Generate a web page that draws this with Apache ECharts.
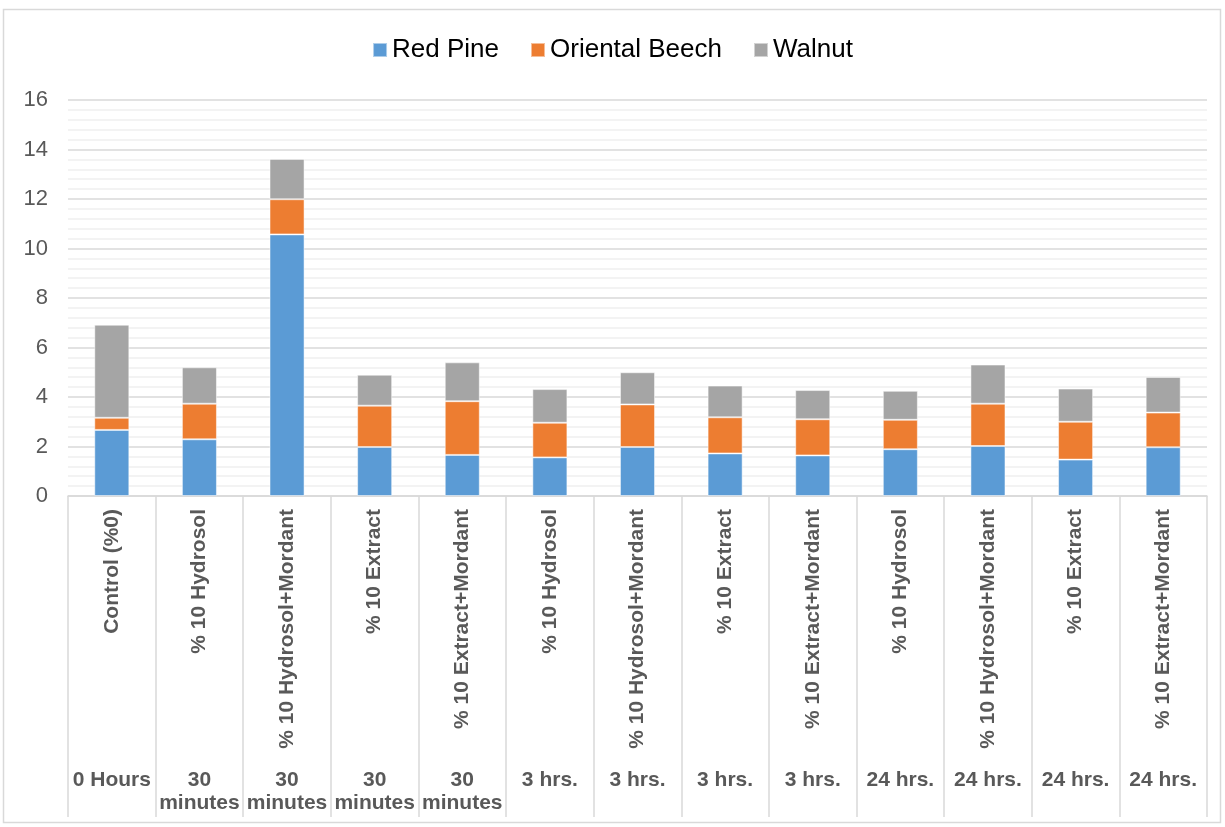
<!DOCTYPE html>
<html lang="en">
<head>
    <meta charset="utf-8">
    <title>ECharts</title>
    <script src="https://cdn.jsdelivr.net/npm/echarts@6/dist/echarts.min.js"></script>
    <style>
        html, body { margin: 0; padding: 0; background: #fff; }
    </style>
</head>
<body>
<div id="main" style="width:1225px;height:827px;"></div>
<script type="text/javascript">
    // treatments (first row of x labels) and time groups (second row)
    var categories = ['Control (%0)', '% 10 Hydrosol', '% 10 Hydrosol+Mordant', '% 10 Extract', '% 10 Extract+Mordant',
        '% 10 Hydrosol', '% 10 Hydrosol+Mordant', '% 10 Extract', '% 10 Extract+Mordant',
        '% 10 Hydrosol', '% 10 Hydrosol+Mordant', '% 10 Extract', '% 10 Extract+Mordant'];
    var groups = ['0 Hours', '30\nminutes', '30\nminutes', '30\nminutes', '30\nminutes',
        '3 hrs.', '3 hrs.', '3 hrs.', '3 hrs.', '24 hrs.', '24 hrs.', '24 hrs.', '24 hrs.'];

    var redPine = [2.67, 2.29, 10.57, 1.98, 1.66, 1.56, 1.98, 1.72, 1.64, 1.89, 2.02, 1.47, 1.97];
    var orientalBeech = [0.49, 1.44, 1.42, 1.67, 2.17, 1.40, 1.72, 1.46, 1.46, 1.19, 1.71, 1.53, 1.40];
    var walnut = [3.76, 1.47, 1.63, 1.25, 1.57, 1.36, 1.30, 1.28, 1.18, 1.17, 1.58, 1.34, 1.44];

    var font = "'Liberation Sans', Arial, sans-serif";
    var myChart = echarts.init(document.getElementById('main'));

    function barSeries(name, color, data) {
        return {
            name: name,
            type: 'bar',
            stack: 'total',
            barWidth: '40%',
            itemStyle: {color: color, borderColor: 'rgba(255,255,255,0.5)', borderWidth: 1},
            data: data
        };
    }

    var option = {
        animation: false,
        textStyle: {fontFamily: font},
        graphic: [{
            type: 'rect',
            shape: {x: 3.5, y: 9.5, width: 1217, height: 813},
            style: {fill: 'none', stroke: '#d9d9d9', lineWidth: 1.5}
        }],
        legend: {
            top: 32,
            left: 'center',
            itemWidth: 14,
            itemHeight: 14,
            itemGap: 31,
            icon: 'rect',
            textStyle: {fontSize: 26, color: '#000', fontFamily: font},
            data: ['Red Pine', 'Oriental Beech', 'Walnut']
        },
        grid: {left: 68, right: 18, top: 100, bottom: 331},
        xAxis: [
            {
                type: 'category',
                data: categories,
                axisLine: {lineStyle: {color: '#d9d9d9', width: 1.5}},
                axisTick: {show: true, length: 321, lineStyle: {color: '#d9d9d9', width: 1.5}},
                axisLabel: {
                    interval: 0, rotate: 90, margin: 13,
                    fontSize: 21, fontWeight: 'bold', color: '#595959', fontFamily: font
                }
            },
            {
                type: 'category',
                position: 'bottom',
                offset: 266,
                data: groups,
                axisLine: {show: false},
                axisTick: {show: false},
                axisLabel: {
                    interval: 0, margin: 7, lineHeight: 23,
                    fontSize: 21, fontWeight: 'bold', color: '#595959', fontFamily: font
                }
            }
        ],
        yAxis: {
            type: 'value',
            min: 0,
            max: 16,
            interval: 2,
            axisLine: {show: false},
            axisTick: {show: false},
            axisLabel: {fontSize: 22, color: '#595959', margin: 20, fontFamily: font},
            splitLine: {lineStyle: {color: '#d9d9d9', width: 1.5}},
            minorTick: {show: false, splitNumber: 5},
            minorSplitLine: {show: true, lineStyle: {color: '#f0f0f0', width: 1.5}}
        },
        series: [
            barSeries('Red Pine', '#5b9bd5', redPine),
            barSeries('Oriental Beech', '#ed7d31', orientalBeech),
            barSeries('Walnut', '#a5a5a5', walnut)
        ]
    };

    myChart.setOption(option);
</script>
</body>
</html>
